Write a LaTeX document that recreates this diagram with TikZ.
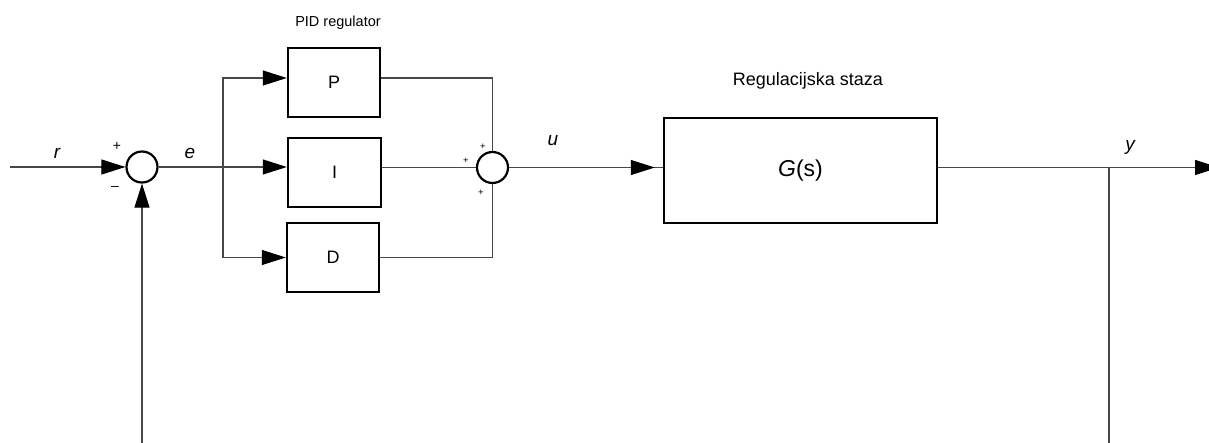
\documentclass[tikz,border=0pt]{standalone}
\usepackage{fontspec}
\setmainfont{Liberation Sans}
\usetikzlibrary{arrows.meta}
\begin{document}
\begin{tikzpicture}[x=1pt,y=-1pt,
  conn/.style={line width=1.1pt, draw=black!72},
  arr/.style={conn, arrows={-{Triangle[length=24pt,width=15pt,color=black]}}},
  blk/.style={draw=black, line width=2.4pt, rectangle, inner sep=0pt},
  sumc/.style={draw=black, line width=2.2pt, circle, minimum size=31pt, inner sep=0pt},
  lbl/.style={inner sep=0pt, font=\fontsize{19}{19}\selectfont\itshape},
  sgn/.style={inner sep=0pt, font=\fontsize{14}{14}\selectfont},
  ssgn/.style={inner sep=0pt, font=\fontsize{9.5}{9.5}\selectfont},
  blktxt/.style={font=\fontsize{18}{18}\selectfont}]
\useasboundingbox (0,0) rectangle (1209,443);
\clip (0,0) rectangle (1209,443);
\fill[white] (0,0) rectangle (1209,443);

% blocks
\node[sumc] (sum1) at (142,167) {};
\node[blk, blktxt, minimum width=92pt, minimum height=69pt] (P) at (334,82.5) {P};
\node[blk, blktxt, minimum width=93pt, minimum height=69pt] (I) at (334.5,172.5) {I};
\node[blk, blktxt, minimum width=92pt, minimum height=69pt] (D) at (333,257.5) {D};
\node[sumc] (sum2) at (492.5,167.5) {};
\node[blk, minimum width=273pt, minimum height=105pt, font=\fontsize{23}{23}\selectfont] (G) at (800.5,170.5) {\textit{G}(s)};

% coordinates
\coordinate (rin) at (10,167);
\coordinate (br) at (223,167);
\coordinate (fb) at (142,450);
\coordinate (ybr) at (1109,167.5);
\coordinate (ybot) at (1109,450);
\coordinate (yout) at (1219,167.5);

% connectors
\draw[arr] (rin) -- (sum1.west);
\draw[arr] (fb) -- (sum1.south);
\draw[arr] (sum1.east) -- (sum1 -| I.west);
\draw[arr] (br) |- ([yshift=4.5pt]P.west);
\draw[arr] (br) |- (D.west);
\draw[conn] ([yshift=4.5pt]P.east) -| (sum2.north);
\draw[conn] (D.east) -| (sum2.south);
\draw[conn] (I.east |- sum2) -- (sum2.west);
\draw[conn] (sum2.east) -- (sum2 -| G.west);
\draw[arr] (sum2.east) -- ([xshift=-8pt]sum2 -| G.west);
\draw[arr] (G.east |- sum2) -- (yout);
\draw[conn] (ybr) -- (ybot);

% labels
\node[lbl] (lr) at (57,153) {r};
\node[lbl] (le) at (190,153) {e};
\node[lbl] (lu) at (553,141) {u};
\node[lbl] (ly) at (1130,147) {y};
\node[sgn] (p1) at (117,146) {+};
\node[sgn] (m1) at (115,188) {–};
\node[ssgn] (p2) at (466,161) {+};
\node[ssgn] (p3) at (483,147) {+};
\node[ssgn] (p4) at (481,193) {+};
\node[inner sep=0pt, font=\fontsize{14.5}{14.5}\selectfont] (pid) at (338,23) {PID regulator};
\node[inner sep=0pt, font=\fontsize{18}{18}\selectfont] (rs) at (808,81) {Regulacijska staza};
\end{tikzpicture}
\end{document}
